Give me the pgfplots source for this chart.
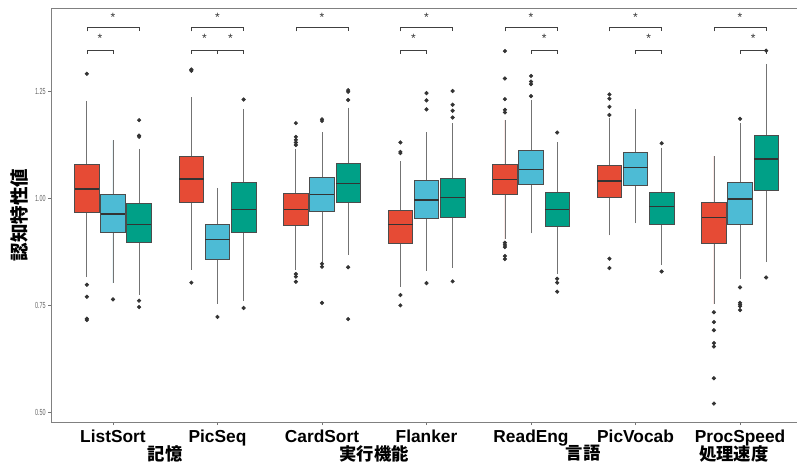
\documentclass[border=0pt]{standalone}
\usepackage{pgfplots}
\pgfplotsset{compat=1.18}
\usepgfplotslibrary{statistics}
\usepackage{graphicx}
\usepackage{fontspec}
\setmainfont{Liberation Sans}
\newfontfamily\cjk{Noto Sans CJK JP}
\definecolor{npgR}{HTML}{E64B35}
\definecolor{npgB}{HTML}{4DBBD5}
\definecolor{npgG}{HTML}{00A087}
\pgfplotsset{
  bx/.style={solid, draw=black!70, line width=0.5pt, mark=*, mark size=1.3pt,
    mark options={fill=black!80, draw=black!80, solid},
    boxplot/draw direction=y,
    boxplot/box extend=0.235, boxplot/whisker extend=0,
    boxplot/every median/.style={line width=1.1pt, draw=black!80},
    boxplot/every whisker/.style={draw=black!55, line width=0.6pt}},
  bR/.style={bx, fill=npgR},
  bB/.style={bx, fill=npgB},
  bG/.style={bx, fill=npgG},
  br/.style={draw=black!75, line width=0.5pt, mark=none},
}
\begin{document}
\begin{tikzpicture}
\begin{axis}[
  name=ax,
  scale only axis,
  width=559.5pt, height=310.5pt,
  xmin=0.407, xmax=7.545,
  ymin=0.478, ymax=1.4435,
  clip=false,
  axis line style={draw=none},
  xtick={1,2,3,4,5,6,7},
  xticklabels={ListSort,PicSeq,CardSort,Flanker,ReadEng,PicVocab,ProcSpeed},
  xticklabel style={font=\fontsize{13}{13}\selectfont\bfseries, text=black},
  ytick={0.5,0.75,1,1.25},
  yticklabels={\scalebox{0.62}[1]{0.50},\scalebox{0.62}[1]{0.75},\scalebox{0.62}[1]{1.00},\scalebox{0.62}[1]{1.25}},
  yticklabel style={font=\fontsize{6.6}{7}\selectfont, text=black!60, inner sep=1.5pt},
  tick align=outside,
  tick pos=left,
  major tick length=2.25pt,
  tick style={black!55, line width=0.5pt},
]
\draw[black!50, line width=0.6pt] (rel axis cs:1,1) -- (rel axis cs:0,1) -- (rel axis cs:0,0) -- (rel axis cs:1,0);

% ListSort
\addplot[bR, boxplot prepared={draw position=0.75, lower whisker=0.816, lower quartile=0.967, median=1.021, upper quartile=1.079, upper whisker=1.227}]
  table[row sep=\\, y index=0] {data\\ 1.290\\ 0.798\\ 0.770\\ 0.716\\ 0.719\\};
\addplot[bB, boxplot prepared={draw position=1.00, lower whisker=0.802, lower quartile=0.920, median=0.963, upper quartile=1.009, upper whisker=1.135}]
  table[row sep=\\, y index=0] {data\\ 0.764\\};
\addplot[bG, boxplot prepared={draw position=1.25, lower whisker=0.775, lower quartile=0.898, median=0.939, upper quartile=0.988, upper whisker=1.115}]
  table[row sep=\\, y index=0] {data\\ 1.182\\ 1.146\\ 1.143\\ 0.761\\ 0.746\\};
% PicSeq
\addplot[bR, boxplot prepared={draw position=1.75, lower whisker=0.833, lower quartile=0.990, median=1.045, upper quartile=1.098, upper whisker=1.235}]
  table[row sep=\\, y index=0] {data\\ 1.297\\ 1.300\\ 0.803\\};
\addplot[bB, boxplot prepared={draw position=2.00, lower whisker=0.754, lower quartile=0.858, median=0.903, upper quartile=0.939, upper whisker=1.024}]
  table[row sep=\\, y index=0] {data\\ 0.723\\};
\addplot[bG, boxplot prepared={draw position=2.25, lower whisker=0.761, lower quartile=0.921, median=0.974, upper quartile=1.036, upper whisker=1.208}]
  table[row sep=\\, y index=0] {data\\ 1.230\\ 0.744\\};
% CardSort
\addplot[bR, boxplot prepared={draw position=2.75, lower whisker=0.833, lower quartile=0.937, median=0.973, upper quartile=1.011, upper whisker=1.115}]
  table[row sep=\\, y index=0] {data\\ 1.175\\ 1.143\\ 1.136\\ 1.130\\ 1.124\\ 0.823\\ 0.817\\ 0.805\\};
\addplot[bB, boxplot prepared={draw position=3.00, lower whisker=0.852, lower quartile=0.970, median=1.009, upper quartile=1.049, upper whisker=1.154}]
  table[row sep=\\, y index=0] {data\\ 1.184\\ 1.180\\ 0.847\\ 0.840\\ 0.756\\};
\addplot[bG, boxplot prepared={draw position=3.25, lower whisker=0.868, lower quartile=0.990, median=1.034, upper quartile=1.081, upper whisker=1.211}]
  table[row sep=\\, y index=0] {data\\ 1.252\\ 1.248\\ 1.229\\ 0.839\\ 0.718\\};
% Flanker
\addplot[bR, boxplot prepared={draw position=3.75, lower whisker=0.794, lower quartile=0.895, median=0.939, upper quartile=0.971, upper whisker=1.086}]
  table[row sep=\\, y index=0] {data\\ 1.130\\ 1.108\\ 1.105\\ 0.774\\ 0.750\\};
\addplot[bB, boxplot prepared={draw position=4.00, lower whisker=0.831, lower quartile=0.952, median=0.996, upper quartile=1.041, upper whisker=1.154}]
  table[row sep=\\, y index=0] {data\\ 1.245\\ 1.228\\ 1.207\\ 0.802\\};
\addplot[bG, boxplot prepared={draw position=4.25, lower whisker=0.838, lower quartile=0.955, median=1.001, upper quartile=1.047, upper whisker=1.175}]
  table[row sep=\\, y index=0] {data\\ 1.250\\ 1.218\\ 1.204\\ 1.188\\ 0.806\\};
% ReadEng
\addplot[bR, boxplot prepared={draw position=4.75, lower whisker=0.904, lower quartile=1.008, median=1.044, upper quartile=1.079, upper whisker=1.182}]
  table[row sep=\\, y index=0] {data\\ 1.343\\ 1.279\\ 1.231\\ 1.206\\ 1.200\\ 0.896\\ 0.891\\ 0.886\\ 0.865\\ 0.858\\};
\addplot[bB, boxplot prepared={draw position=5.00, lower whisker=0.918, lower quartile=1.032, median=1.067, upper quartile=1.111, upper whisker=1.229}]
  table[row sep=\\, y index=0] {data\\ 1.285\\ 1.272\\ 1.266\\ 1.238\\};
\addplot[bG, boxplot prepared={draw position=5.25, lower whisker=0.823, lower quartile=0.934, median=0.974, upper quartile=1.013, upper whisker=1.130}]
  table[row sep=\\, y index=0] {data\\ 1.153\\ 0.812\\ 0.803\\ 0.782\\};
% PicVocab
\addplot[bR, boxplot prepared={draw position=5.75, lower whisker=0.913, lower quartile=1.001, median=1.040, upper quartile=1.077, upper whisker=1.186}]
  table[row sep=\\, y index=0] {data\\ 1.242\\ 1.232\\ 1.213\\ 1.194\\ 0.859\\ 0.837\\};
\addplot[bB, boxplot prepared={draw position=6.00, lower whisker=0.941, lower quartile=1.030, median=1.071, upper quartile=1.107, upper whisker=1.208}]
  coordinates {};
\addplot[bG, boxplot prepared={draw position=6.25, lower whisker=0.844, lower quartile=0.939, median=0.980, upper quartile=1.013, upper whisker=1.118}]
  table[row sep=\\, y index=0] {data\\ 1.128\\ 0.829\\};
% ProcSpeed
\addplot[bR, boxplot prepared={draw position=6.75, lower whisker=0.753, lower quartile=0.895, median=0.955, upper quartile=0.991, upper whisker=1.098}]
  table[row sep=\\, y index=0] {data\\ 0.734\\ 0.711\\ 0.692\\ 0.662\\ 0.654\\ 0.580\\ 0.521\\};
\addplot[bB, boxplot prepared={draw position=7.00, lower whisker=0.812, lower quartile=0.939, median=0.998, upper quartile=1.036, upper whisker=1.175}]
  table[row sep=\\, y index=0] {data\\ 1.185\\ 0.792\\ 0.756\\ 0.752\\ 0.748\\ 0.739\\};
\addplot[bG, boxplot prepared={draw position=7.25, lower whisker=0.851, lower quartile=1.018, median=1.091, upper quartile=1.147, upper whisker=1.313}]
  table[row sep=\\, y index=0] {data\\ 1.344\\ 0.815\\};

% significance brackets, upper level (red vs green)
\addplot[br] coordinates {(0.75,1.389) (0.75,1.3985) (1.25,1.3985) (1.25,1.389)};
\addplot[br] coordinates {(1.75,1.389) (1.75,1.3985) (2.25,1.3985) (2.25,1.389)};
\addplot[br] coordinates {(2.75,1.389) (2.75,1.3985) (3.25,1.3985) (3.25,1.389)};
\addplot[br] coordinates {(3.75,1.389) (3.75,1.3985) (4.25,1.3985) (4.25,1.389)};
\addplot[br] coordinates {(4.75,1.389) (4.75,1.3985) (5.25,1.3985) (5.25,1.389)};
\addplot[br] coordinates {(5.75,1.389) (5.75,1.3985) (6.25,1.3985) (6.25,1.389)};
\addplot[br] coordinates {(6.75,1.389) (6.75,1.3985) (7.25,1.3985) (7.25,1.389)};
% lower level
\addplot[br] coordinates {(0.75,1.337) (0.75,1.3456) (1.00,1.3456) (1.00,1.337)};
\addplot[br] coordinates {(1.75,1.337) (1.75,1.3456) (2.00,1.3456) (2.00,1.337)};
\addplot[br] coordinates {(2.00,1.337) (2.00,1.3456) (2.25,1.3456) (2.25,1.337)};
\addplot[br] coordinates {(3.75,1.337) (3.75,1.3456) (4.00,1.3456) (4.00,1.337)};
\addplot[br] coordinates {(5.00,1.337) (5.00,1.3456) (5.25,1.3456) (5.25,1.337)};
\addplot[br] coordinates {(6.00,1.337) (6.00,1.3456) (6.25,1.3456) (6.25,1.337)};
\addplot[br] coordinates {(7.00,1.337) (7.00,1.3456) (7.25,1.3456) (7.25,1.337)};

% stars
\pgfplotsinvokeforeach{1,2,3,4,5,6,7}{
  \node[font=\fontsize{9}{9}\selectfont, text=black!80, inner sep=0pt] at (axis cs:#1,1.422) {*};
}
\pgfplotsinvokeforeach{0.875,1.875,2.125,3.875,5.125,6.125,7.125}{
  \node[font=\fontsize{9}{9}\selectfont, text=black!80, inner sep=0pt] at (axis cs:#1,1.373) {*};
}

% group labels
\node[anchor=north, inner sep=0pt, font=\cjk\bfseries\fontsize{13}{13}\selectfont] at ([yshift=-17.25pt]axis cs:1.5,0.478) {記憶};
\node[anchor=north, inner sep=0pt, font=\cjk\bfseries\fontsize{13}{13}\selectfont] at ([yshift=-17.25pt]axis cs:3.5,0.478) {実行機能};
\node[anchor=north, inner sep=0pt, font=\cjk\bfseries\fontsize{13}{13}\selectfont] at ([yshift=-17.25pt]axis cs:5.5,0.478) {言語};
\node[anchor=north, inner sep=0pt, font=\cjk\bfseries\fontsize{13}{13}\selectfont] at ([yshift=-17.25pt]axis cs:6.94,0.478) {処理速度};
\end{axis}
\node[rotate=90, font=\cjk\bfseries\fontsize{13.9}{14}\selectfont] at ([xshift=-24pt]ax.west) {認知特性値};
\pgfresetboundingbox
\path[use as bounding box] ([xshift=-38.25pt,yshift=-31.5pt]ax.south west) rectangle ([yshift=6pt]ax.north east);
\end{tikzpicture}
\end{document}
